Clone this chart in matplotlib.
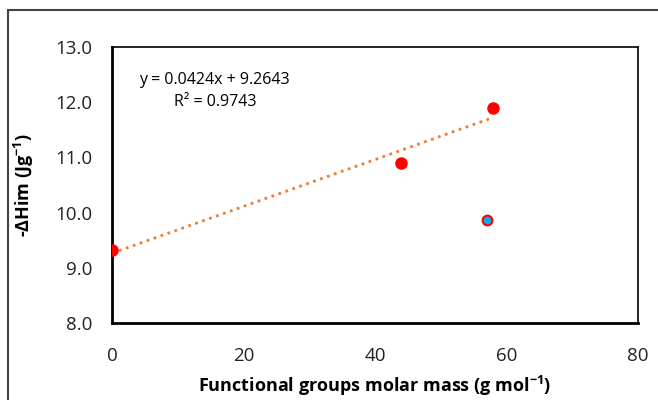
import numpy as np
import matplotlib.pyplot as plt
from matplotlib.patches import Rectangle

plt.rcParams['font.family'] = ['Open Sans', 'DejaVu Sans']

# red series (fitted)
mass = [0, 44, 58]
dh = [9.33, 10.9, 11.9]
# blue point
mass_b = [57]
dh_b = [9.87]

slope = 0.0424
icpt = 9.2643

fig = plt.figure(figsize=(6.58, 4.0), dpi=100)
ax = fig.add_axes([112/658, 1 - 323/400, (638 - 112)/658, (323 - 47)/400])

xt = np.array([min(mass), max(mass)])
ax.plot(xt, slope*xt + icpt, ':', color='#ED7D31', lw=2.0, zorder=2)
ax.plot(mass, dh, 'o', color='#FF0000', ms=8, zorder=3)
ax.plot(mass_b, dh_b, 'o', mfc='#00B0F0', mec='#FF0000', mew=1.5, ms=7, zorder=3)

ax.set_xlim(0, 80)
ax.set_ylim(8, 13)
ax.set_xticks([0, 20, 40, 60, 80])
ax.set_yticks([8, 9, 10, 11, 12, 13])
ax.set_yticklabels(['%.1f' % v for v in [8, 9, 10, 11, 12, 13]])
ax.tick_params(length=0, labelsize=13.5, colors='#222222')
ax.tick_params(axis='y', pad=14)
ax.tick_params(axis='x', pad=17)
for s in ax.spines.values():
    s.set_linewidth(1.2)
ax.spines['left'].set_linewidth(2)
ax.spines['bottom'].set_linewidth(2)

ax.set_xlabel('Functional groups molar mass (g mol$^{\\mathregular{-1}}$)',
              fontsize=13, fontweight='bold', labelpad=7)
ax.set_ylabel('-ΔHim (Jg$^{\\mathregular{-1}}$)', fontsize=13, fontweight='bold', labelpad=14)

ax.text(0.052, 0.88, 'y = 0.0424x + 9.2643', transform=ax.transAxes, fontsize=11.5,
        ha='left', va='center')
ax.text(0.196, 0.80, 'R² = 0.9743', transform=ax.transAxes, fontsize=11.5,
        ha='center', va='center')

fig.patches.append(Rectangle((8/658, -0.05), 1.1, 1 - 10/400 + 0.05, transform=fig.transFigure,
                             fill=False, ec='#444444', lw=1.5))

fig.savefig('out.png', dpi=100)
